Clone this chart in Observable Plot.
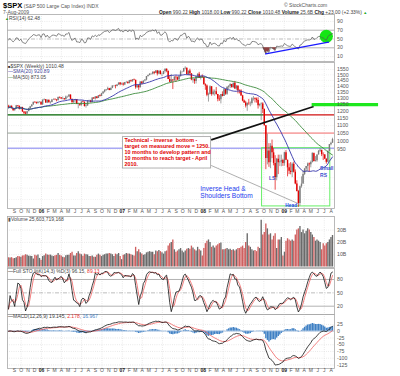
<!DOCTYPE html>
<html>
<head>
<meta charset="utf-8">
<script src="https://cdn.jsdelivr.net/npm/d3@7"></script>
<script src="https://cdn.jsdelivr.net/npm/@observablehq/plot@0.6"></script>
<style>
html,body{margin:0;padding:0;background:#fff;}
#chart{position:relative;width:400px;height:376px;overflow:hidden;background:#fff;}
#chart > svg{position:absolute;left:0;top:0;}
</style>
</head>
<body>
<div id="chart"></div>
<script>
// ---------- weekly $SPX data (weeks ending Friday, from 5-Aug-2005) ----------
const firstWeek = "2005-08-05";
const priorClose = 1234;
const close2005 = [1226,1238,1220,1205,1218,1242,1238,1215,1229,1196,1187,1180,1198,1220,1235,1248,1268,1265,1259,1267,1269,1248];
const close2006 = [1285,1288,1262,1284,1264,1267,1287,1289,1287,1281,1307,1303,1295,1296,1289,1311,1311,1326,1291,1267,1280,1288,1252,1252,1245,1270,1266,1236,1240,1279,1279,1267,1302,1295,1311,1299,1320,1315,1336,1350,1366,1369,1377,1364,1381,1401,1401,1397,1410,1427,1411,1418];
const close2007 = [1410,1431,1431,1422,1448,1438,1456,1451,1387,1403,1387,1436,1421,1444,1453,1484,1494,1506,1506,1523,1516,1536,1508,1533,1503,1503,1530,1553,1534,1459,1433,1454,1446,1479,1474,1454,1484,1526,1527,1558,1562,1501,1535,1510,1454,1459,1441,1481,1505,1468,1485,1479];
const close2008 = [1412,1401,1325,1331,1395,1331,1350,1353,1331,1293,1288,1330,1315,1370,1333,1390,1398,1414,1388,1425,1376,1400,1361,1360,1318,1278,1263,1240,1261,1258,1260,1296,1298,1292,1283,1242,1252,1255,1213,1099,899,941,877,969,931,873,800,896,876,880,888,873];
const close2009 = [932,890,850,832,826,869,827,770,735,683,757,769,816,843,857,870,866,878,929,883,887,919,940,946,921,919,896,879,940,979,987,1010];

const high2005 = [1245,1242,1240,1222,1220,1244,1243,1239,1232,1230,1198,1197,1201,1223,1237,1249,1270,1272,1270,1275,1273,1271];
const high2006 = [1287,1295,1290,1287,1286,1275,1290,1295,1297,1288,1310,1310,1306,1310,1297,1318,1316,1327,1326,1295,1286,1291,1289,1262,1260,1276,1278,1273,1253,1280,1285,1284,1304,1305,1312,1314,1322,1328,1340,1353,1368,1372,1391,1381,1386,1403,1406,1408,1413,1428,1431,1427];
const high2007 = [1429,1432,1441,1441,1450,1453,1457,1462,1452,1409,1410,1438,1438,1446,1457,1485,1499,1511,1514,1529,1529,1540,1540,1539,1539,1517,1533,1556,1555,1534,1489,1504,1456,1484,1491,1481,1488,1538,1533,1560,1576,1564,1535,1553,1510,1471,1463,1488,1510,1523,1485,1500];
const high2008 = [1479,1420,1410,1342,1403,1395,1368,1367,1388,1331,1321,1331,1352,1380,1372,1395,1404,1422,1415,1426,1441,1406,1404,1368,1370,1324,1286,1276,1262,1291,1271,1305,1314,1304,1302,1304,1255,1265,1265,1218,1100,1044,985,985,1007,955,915,900,918,918,918,895];
const high2009 = [935,944,890,871,877,875,880,839,785,740,760,804,833,846,857,875,875,885,930,924,910,920,945,956,945,931,922,897,942,980,993,1018];

const low2005 = [1223,1218,1217,1201,1201,1217,1231,1210,1211,1192,1177,1176,1174,1197,1217,1231,1246,1262,1252,1254,1263,1247];
const low2006 = [1246,1280,1260,1258,1262,1253,1264,1283,1281,1272,1280,1296,1291,1288,1284,1285,1300,1306,1290,1256,1257,1261,1250,1219,1237,1237,1264,1232,1224,1238,1265,1262,1265,1292,1285,1294,1298,1310,1313,1330,1343,1356,1363,1361,1362,1378,1393,1377,1394,1407,1403,1410];
const low2007 = [1400,1405,1424,1416,1420,1435,1434,1447,1374,1382,1364,1385,1412,1418,1437,1446,1478,1491,1497,1500,1501,1514,1490,1501,1500,1484,1502,1517,1520,1457,1431,1429,1371,1443,1432,1449,1451,1480,1517,1523,1548,1500,1490,1490,1447,1425,1416,1419,1465,1467,1453,1467];
const low2008 = [1411,1365,1312,1270,1327,1316,1321,1316,1325,1272,1275,1256,1311,1315,1324,1324,1370,1379,1382,1380,1373,1364,1335,1335,1316,1272,1260,1225,1200,1245,1234,1247,1278,1263,1262,1217,1233,1133,1184,1097,840,865,852,845,899,860,741,785,815,856,855,857];
const low2009 = [858,888,804,815,814,800,823,766,733,667,672,750,768,810,826,830,827,850,875,880,880,879,919,933,910,888,896,869,877,939,972,990];

// weekly volume, billions of shares
const vol2005 = [7.5,7.3,7.6,6.8,7.0,7.5,8.5,8.3,8.0,9.0,9.2,10.0,9.5,8.8,8.7,8.6,6.5,9.5,9.0,9.8,7.0,5.5];
const vol2006 = [8.5,9.2,10.5,9.8,9.5,9.7,9.0,8.5,9.2,9.5,11.0,9.5,9.0,8.0,7.5,9.2,9.5,9.5,11.0,12.0,9.0,9.0,11.0,12.5,10.5,10.0,8.8,10.5,10.0,9.8,8.5,8.5,9.0,8.0,8.0,9.5,10.5,9.5,8.5,9.5,10.0,10.5,10.5,11.0,10.5,10.0,8.5,10.5,10.0,11.0,8.5,6.0];
const vol2007 = [9.5,10.0,11.0,10.5,10.5,10.0,9.5,9.0,16.0,12.5,14.0,11.5,10.5,9.5,10.0,11.5,12.0,12.5,12.0,12.0,10.0,13.0,12.5,13.5,12.5,11.5,10.5,12.5,13.0,17.0,19.0,20.0,22.0,14.0,12.0,13.0,14.0,15.0,13.0,11.5,13.0,14.5,15.0,14.5,17.0,15.5,14.0,13.0,16.0,14.0,13.0,9.0];
const vol2008 = [15,19,21,22,20,16,17,15.5,17,18,19,19.5,14,14,14.5,15,14,14.5,13.5,14,13,14,15,15,16,17,15,20,27,17,16,14,13,13.5,12.5,16,15,38,26,28,35,31,26,27,22,25,27,15,22,22,24,9];
const vol2009 = [12,21,23,22,21,22,21,26,30,31,33,28,30,27,29,31,30,28,26,24,21,22,21,20,14,19,17,19,20,22,24,25.6];

// ---------- axis ticks ----------
const rsiTicks = [10,30,50,70,90];
const priceTicks = [700,750,800,850,900,950,1000,1050,1100,1150,1200,1250,1300,1350,1400,1450,1500,1550];
const volTicks = [10,20,30];
const stoTicks = [20,50,80];
const macdTicks = [25,0,-25,-50,-75,-100,-125];
const monthLetters = ["J","F","M","A","M","J","J","A","S","O","N","D"];

// ---------- annotations (data coordinates) ----------
const chartStart = "2005-07-31T12:00Z", chartEnd = "2009-08-16";
const supportLevel = 1175, resistanceLevel = 1050, necklineLevel = 958, targetLevel = 1250;
const breakDate = "2008-09-29";
const patternBox = {x1: "2008-09-23", x2: "2009-07-28", y1: 671, y2: 958};
const targetSpan = {x1: "2009-05-07", x2: "2010-03-03"};
const noteBox = {x1: "2007-01-04", x2: "2008-02-06", y1: 846, y2: 1025};
const noteAnchor = {date: "2007-01-11", price: 1021};
const noteText = "Technical - inverse  bottom -\ntarget on measured move = 1250.\n10 months to develop pattern and\n10 months to reach target - April\n2010.";
const pointerTarget = {x1: "2008-02-06", y1: 1008, x2: "2009-05-14", y2: 1236};
const pointerHead = {x1: "2008-02-06", y1: 862, x2: "2009-03-07", y2: 682};
const patternLabels = [
  {date: "2008-10-24", price: 797, text: "LS"},
  {date: "2009-06-12", price: 848, text: "Small"},
  {date: "2009-06-12", price: 811, text: "RS"}
];
const titleLabels = [
  {date: "2007-12-19", price: 747, text: "Inverse Head &"},
  {date: "2007-12-19", price: 717, text: "Shoulders Bottom"}
];
const headLabel = {date: "2009-01-06", price: 675, text: "Head"};
const rsiTrend = [{date: "2008-10-09", rsi: 16.4}, {date: "2009-07-20", rsi: 42.7}];
const rsiCircle = {date: "2009-07-10", rsi: 56};

// ---------- assemble ----------
const closes = [...close2005, ...close2006, ...close2007, ...close2008, ...close2009];
const highs = [...high2005, ...high2006, ...high2007, ...high2008, ...high2009];
const lows = [...low2005, ...low2006, ...low2007, ...low2008, ...low2009];
const volumes = [...vol2005, ...vol2006, ...vol2007, ...vol2008, ...vol2009];
const t0 = new Date(firstWeek);
const bars = closes.map((c, i) => {
  const open = i ? closes[i - 1] : priorClose;
  return {date: d3.utcDay.offset(t0, 7 * i), open, close: c, high: highs[i], low: lows[i], vol: volumes[i], down: c < open};
});

// indicators (computed from the weekly bars)
const ch = bars.map(b => b.close - b.open);
const seed = d3.mean(ch.slice(0, 14), Math.abs) / 2;
let ag = seed, al = seed;
const rsi = ch.map(c => { ag = (ag * 13 + Math.max(c, 0)) / 14; al = (al * 13 + Math.max(-c, 0)) / 14; return 100 - 100 / (1 + ag / al); });
const fastK = bars.map((b, i) => {
  const w = bars.slice(Math.max(0, i - 13), i + 1);
  const lo = d3.min(w, d => d.low), hi = d3.max(w, d => d.high);
  return 100 * (b.close - lo) / (hi - lo);
});
const sma = (a, k) => a.map((_, i) => d3.mean(a.slice(Math.max(0, i - k + 1), i + 1)));
const fullK = sma(fastK, 3), fullD = sma(fullK, 3);
const ema = (a, k) => { const al2 = 2 / (k + 1); let e = a[0]; return a.map(v => (e = e + al2 * (v - e))); };
const e12 = ema(closes, 12), e26 = ema(closes, 26);
const macd = e12.map((v, i) => v - e26[i]);
const signal = ema(macd, 9);
const ind = bars.map((b, i) => ({date: b.date, rsi: rsi[i], k: fullK[i], d: fullD[i], macd: macd[i], sig: signal[i], hist: macd[i] - signal[i]}));

// ---------- drawing ----------
const FONT = "Liberation Sans, Arial, sans-serif";
const W = 400, H = 376, ML = 7, MR = 66;
const D = s => new Date(s);
const xDomain = [D(chartStart), D(chartEnd)];
const monthTicks = d3.utcMonths(new Date(Date.UTC(2005, 8, 1)), new Date(Date.UTC(2009, 8, 1)));
const quarterTicks = monthTicks.filter(d => d.getUTCMonth() % 3 === 0);
const DOT = "0.8,1.4";
const GRID = "#d4d4d4";

function panel(top, bottom, yOpts, marks) {
  return Plot.plot({
    width: W, height: H, marginLeft: ML, marginRight: MR, marginTop: top, marginBottom: H - bottom,
    x: {type: "utc", domain: xDomain, axis: null},
    y: {...yOpts},
    style: {background: "transparent", overflow: "visible", fontFamily: FONT, fontSize: "5px", color: "#555"},
    marks
  });
}
const rightAxis = (ticks, fmt) => Plot.axisY(ticks, {anchor: "right", tickSize: 0, tickPadding: 2.5, tickFormat: fmt, fontSize: 5.2, fill: "#555", label: null});
const vGrid = () => Plot.ruleX(quarterTicks, {stroke: GRID, strokeDasharray: DOT, strokeWidth: 0.6});
const frame = () => Plot.frame({stroke: "#a8a8a8", strokeWidth: 0.8});
const monthMarks = dy => [
  Plot.text(monthTicks.filter(d => d.getUTCMonth() !== 0), {x: d => d, text: d => monthLetters[d.getUTCMonth()], frameAnchor: "bottom", dy, fontSize: 5, fill: "#555", fontFamily: FONT}),
  Plot.text(monthTicks.filter(d => d.getUTCMonth() === 0), {x: d => d, text: d => String(d.getUTCFullYear()).slice(2), frameAnchor: "bottom", dy, fontSize: 5, fontWeight: "bold", fill: "#222", fontFamily: FONT})
];
const barColor = d => d.down ? "#e00000" : "#7a7a7a";

// RSI panel
const rsiPanel = panel(14, 61, {domain: [-1.1, 105.7]}, [
  vGrid(),
  Plot.ruleY([10, 90], {stroke: GRID, strokeDasharray: DOT, strokeWidth: 0.6}),
  Plot.ruleY([30, 70], {stroke: "#a0a0a0", strokeWidth: 0.8}),
  Plot.ruleY([50], {stroke: "#a0a0a0", strokeWidth: 0.7, strokeDasharray: "4,1.5,1,1.5"}),
  Plot.areaY(ind, {x: "date", y1: 30, y2: d => Math.min(d.rsi, 30), fill: "#8e3f3f"}),
  Plot.dot([rsiCircle], {x: d => D(d.date), y: "rsi", r: 6.6, fill: "#14e614"}),
  Plot.line(ind, {x: "date", y: "rsi", stroke: "#555", strokeWidth: 0.7}),
  Plot.line(rsiTrend, {x: d => D(d.date), y: "rsi", stroke: "#1a1aff", strokeWidth: 1.3}),
  frame(),
  rightAxis(rsiTicks, d => String(d))
]);

// price panel
const hline = (y, x1, x2) => [{y, x1: D(x1), x2: D(x2)}];
const pricePanel = panel(62, 208, {type: "log", domain: [662.5, 1617.8]}, [
  vGrid(),
  Plot.ruleY(priceTicks, {stroke: "#e2e2e2", strokeDasharray: DOT, strokeWidth: 0.6}),
  Plot.ruleY(hline(supportLevel, chartStart, breakDate), {y: "y", x1: "x1", x2: "x2", stroke: "#006400", strokeWidth: 1.2}),
  Plot.ruleY(hline(supportLevel, breakDate, chartEnd), {y: "y", x1: "x1", x2: "x2", stroke: "#d01010", strokeWidth: 1.2}),
  Plot.ruleY(hline(resistanceLevel, chartStart, breakDate), {y: "y", x1: "x1", x2: "x2", stroke: "#c2cac2", strokeWidth: 1.8}),
  Plot.ruleY(hline(resistanceLevel, breakDate, chartEnd), {y: "y", x1: "x1", x2: "x2", stroke: "#f7a8a8", strokeWidth: 1.8}),
  Plot.ruleY(hline(necklineLevel, chartStart, chartEnd), {y: "y", x1: "x1", x2: "x2", stroke: "#a8a8f4", strokeWidth: 1.6}),
  Plot.rect([patternBox], {x1: d => D(d.x1), x2: d => D(d.x2), y1: "y1", y2: "y2", fill: "none", stroke: "#66ee66", strokeWidth: 1}),
  Plot.ruleX(bars, {x: "date", y1: "low", y2: "high", stroke: barColor, strokeWidth: 0.7}),
  Plot.ruleX(bars, {x: "date", y1: "open", y2: "close", stroke: barColor, strokeWidth: 1.4}),
  Plot.lineY(bars, Plot.windowY({k: 50, anchor: "end", strict: false}, {x: "date", y: "close", stroke: "#3a8a3a", strokeWidth: 0.9})),
  Plot.lineY(bars, Plot.windowY({k: 20, anchor: "end", strict: false}, {x: "date", y: "close", stroke: "#3333aa", strokeWidth: 0.9})),
  Plot.link([pointerHead], {x1: d => D(d.x1), y1: "y1", x2: d => D(d.x2), y2: "y2", stroke: "#9a9a9a", strokeWidth: 0.8}),
  Plot.link([pointerTarget], {x1: d => D(d.x1), y1: "y1", x2: d => D(d.x2), y2: "y2", stroke: "#111", strokeWidth: 1.6}),
  Plot.rect([noteBox], {x1: d => D(d.x1), x2: d => D(d.x2), y1: "y1", y2: "y2", fill: "#fff", stroke: "#a0a0a0", strokeWidth: 0.8}),
  Plot.text([noteText], {x: D(noteAnchor.date), y: noteAnchor.price, text: d => d, textAnchor: "start", lineAnchor: "top", lineHeight: 1.1, fill: "#e00000", fontSize: 5.4, fontWeight: "bold", fontFamily: FONT}),
  Plot.text(patternLabels, {x: d => D(d.date), y: "price", text: "text", textAnchor: "start", fill: "#3a4fd0", fontSize: 5, fontWeight: "bold", fontFamily: FONT}),
  Plot.text(titleLabels, {x: d => D(d.date), y: "price", text: "text", textAnchor: "start", fill: "#2540ee", fontSize: 6.6, fontFamily: FONT}),
  Plot.text([headLabel], {x: d => D(d.date), y: "price", text: "text", textAnchor: "start", fill: "#2540ee", fontSize: 4.8, fontWeight: "bold", fontFamily: FONT}),
  frame(),
  Plot.ruleY([{y: targetLevel, x1: D(targetSpan.x1), x2: D(targetSpan.x2)}], {y: "y", x1: "x1", x2: "x2", stroke: "#1ee81e", strokeWidth: 3.2}),
  rightAxis(priceTicks, d => String(d)),
  ...monthMarks(4.8)
]);

// volume panel
const volPanel = panel(216, 267, {domain: [-0.4, 41.06]}, [
  vGrid(),
  Plot.ruleY(volTicks, {stroke: GRID, strokeDasharray: DOT, strokeWidth: 0.6}),
  Plot.ruleX(bars, {x: "date", y1: 0, y2: "vol", stroke: d => d.down ? "#cf6060" : "#6a6a6a", strokeWidth: 1.35}),
  frame(),
  rightAxis(volTicks, d => d + "B")
]);

// stochastics panel
const stoPanel = panel(268, 314, {domain: [1.35, 104.7]}, [
  vGrid(),
  Plot.ruleY([20, 80], {stroke: "#a0a0a0", strokeWidth: 0.8}),
  Plot.ruleY([50], {stroke: "#a0a0a0", strokeWidth: 0.7, strokeDasharray: "4,1.5,1,1.5"}),
  Plot.line(ind, {x: "date", y: "d", stroke: "#f06060", strokeWidth: 0.8, clip: true}),
  Plot.line(ind, {x: "date", y: "k", stroke: "#111", strokeWidth: 0.8, clip: true}),
  frame(),
  rightAxis(stoTicks, d => String(d))
]);

// MACD panel
const macdPanel = panel(314, 368, {domain: [-138.1, 61.9]}, [
  vGrid(),
  Plot.ruleY(macdTicks, {stroke: GRID, strokeDasharray: DOT, strokeWidth: 0.6}),
  Plot.ruleX(ind, {x: "date", y1: 0, y2: "hist", stroke: "#3f80c4", strokeWidth: 1.4}),
  Plot.ruleY([0], {stroke: "#8fb4dc", strokeWidth: 0.6}),
  Plot.line(ind, {x: "date", y: "sig", stroke: "#f06060", strokeWidth: 0.8}),
  Plot.line(ind, {x: "date", y: "macd", stroke: "#111", strokeWidth: 0.8}),
  frame(),
  rightAxis(macdTicks, d => String(d)),
  ...monthMarks(3.4)
]);

const root = document.getElementById("chart");
[rsiPanel, pricePanel, volPanel, stoPanel, macdPanel].forEach(s => root.appendChild(s));

// ---------- text labels ----------
const ov = d3.create("svg").attr("width", W).attr("height", H).attr("font-family", FONT).style("white-space", "pre");
function label(x, y, size, parts) {
  const t = ov.append("text").attr("x", x).attr("y", y).attr("font-size", size).attr("fill", "#444");
  for (const [s, fill, weight, fs] of parts) {
    const ts = t.append("tspan").text(s);
    if (fill) ts.attr("fill", fill);
    if (weight) ts.attr("font-weight", weight);
    if (fs) ts.attr("font-size", fs);
  }
}
label(3, 7.5, 5, [["$SPX", "#000", "bold", 7.6], [" (S&P 500 Large Cap Index) INDX", "#555"]]);
label(3, 13.6, 5, [["7-Aug-2009", "#555"]]);
label(284, 6.8, 5, [["© StockCharts.com", "#555"]]);
label(159, 13.6, 4.9, [["Open", "#222", "bold"], [" 990.22  "], ["High", "#222", "bold"], [" 1018.00  "], ["Low", "#222", "bold"], [" 990.22  "], ["Close", "#222", "bold"], [" 1010.48  "], ["Volume", "#222", "bold"], [" 25.6B  "], ["Chg", "#222", "bold"], [" +23.00 (+2.33%) "], ["▲", "#22aa22", null, 4]]);
label(5, 19.6, 5, [["▲", "#2a9a2a", null, 4], ["RSI(14) 62.48"]]);
label(8, 67.6, 5, [["■", "#333", null, 4], ["$SPX (Weekly) 1010.48"]]);
label(8, 73.2, 5, [["—", "#3333aa"], ["SMA(20) 920.89", "#44449a"]]);
label(8, 78.8, 5, [["—", "#3a8a3a"], ["MA(50) 873.05", "#444"]]);
label(8, 221, 5, [["▮", "#555", null, 4.5], ["Volume 25,603,719,168"]]);
label(8, 272.6, 5, [["—", "#111"], ["Full STO %K(14,3) %D(3) 96.15, "], ["89.13", "#e83030"]]);
label(8, 318.2, 5, [["—", "#111"], ["MACD(12,26,9) 19.145, "], ["2.178", "#e83030"], [", "], ["16.967", "#3f80c4"]]);
root.appendChild(ov.node());
</script>
</body>
</html>
